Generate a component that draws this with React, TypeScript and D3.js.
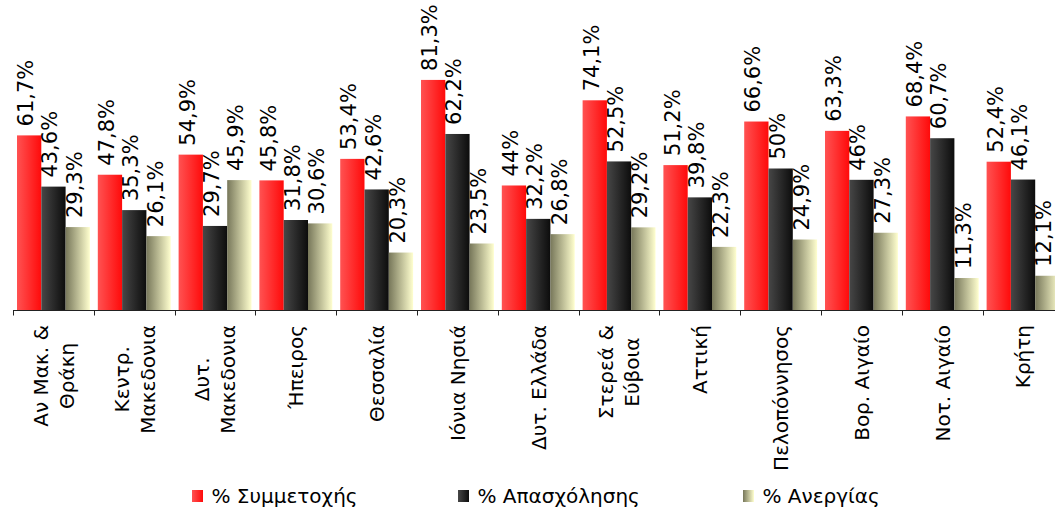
import React, { useEffect, useRef } from "react";
import * as d3 from "d3";

const categories: string[][] = [
  ["Αν Μακ. &", "Θράκη"],
  ["Κεντρ.", "Μακεδονια"],
  ["Δυτ.", "Μακεδονια"],
  ["Ήπειρος"],
  ["Θεσσαλία"],
  ["Ιόνια Νησιά"],
  ["Δυτ. Ελλάδα"],
  ["Στερεά &", "Εύβοια"],
  ["Αττική"],
  ["Πελοπόννησος"],
  ["Βορ. Αιγαίο"],
  ["Νοτ. Αιγαίο"],
  ["Κρήτη"],
];

const participation = [61.7, 47.8, 54.9, 45.8, 53.4, 81.3, 44, 74.1, 51.2, 66.6, 63.3, 68.4, 52.4];
const employment = [43.6, 35.3, 29.7, 31.8, 42.6, 62.2, 32.2, 52.5, 39.8, 50, 46, 60.7, 46.1];
const unemployment = [29.3, 26.1, 45.9, 30.6, 20.3, 23.5, 26.8, 29.2, 22.3, 24.9, 27.3, 11.3, 12.1];

const seriesNames = ["% Συμμετοχής", "% Απασχόλησης", "% Ανεργίας"];

const W = 1055;
const H = 508;

export default function App() {
  const ref = useRef<SVGSVGElement>(null);

  useEffect(() => {
    const svg = d3.select(ref.current!);
    svg.selectAll("*").remove();

    const defs = svg.append("defs");
    const grads = [
      ["g0", "#ff5252", "#ff0a0a"],
      ["g1", "#474747", "#0c0c0c"],
      ["g2", "#77775a", "#ffffcf"],
    ];
    grads.forEach(([id, c1, c2]) => {
      const g = defs.append("linearGradient").attr("id", id).attr("x1", 0).attr("x2", 1).attr("y1", 0).attr("y2", 0);
      g.append("stop").attr("offset", "0%").attr("stop-color", c1);
      g.append("stop").attr("offset", "100%").attr("stop-color", c2);
    });

    const series = [participation, employment, unemployment];
    const keys = categories.map((_, i) => String(i));
    const step = 80.8;
    const x0 = d3.scaleBand<string>().domain(keys).range([13, 13 + step * keys.length]).padding(0);
    const x1 = d3.scaleBand<number>().domain([0, 1, 2]).range([4, 4 + 24.3 * 3]).padding(0);
    const y = d3.scaleLinear().domain([0, 100]).range([310, 27]);

    const font = "'DejaVu Sans', Verdana, sans-serif";

    // bars
    keys.forEach((k, i) => {
      const g = svg.append("g").attr("transform", `translate(${x0(k)},0)`);
      series.forEach((s, j) => {
        const v = s[i];
        const bx = x1(j)!;
        g.append("rect")
          .attr("x", bx)
          .attr("y", y(v))
          .attr("width", x1.bandwidth())
          .attr("height", y(0) - y(v))
          .attr("fill", `url(#g${j})`);
        const cx = bx + x1.bandwidth() / 2 + 4;
        const ty = y(v) - 9;
        g.append("text")
          .attr("transform", `translate(${cx},${ty}) rotate(-90)`)
          .attr("font-family", font)
          .attr("font-size", 21)
          .attr("fill", "#000")
          .text(String(v).replace(".", ",") + "%");
      });
    });

    // axis
    const axisY = 310.5;
    svg.append("line").attr("x1", 13).attr("x2", W).attr("y1", axisY).attr("y2", axisY).attr("stroke", "#222").attr("stroke-width", 1);
    for (let i = 0; i <= keys.length; i++) {
      const tx = Math.round(13 + step * i) + 0.5;
      svg.append("line").attr("x1", tx).attr("x2", tx).attr("y1", axisY).attr("y2", axisY + 5).attr("stroke", "#222");
    }

    // category labels
    const lineH = 26;
    keys.forEach((k, i) => {
      const lines = categories[i];
      const center = x0(k)! + x0.bandwidth() / 2;
      const texts = lines.map((ln, li) => {
        const bx = center + (li - (lines.length - 1) / 2) * lineH + 7.3;
        return svg.append("text")
          .attr("font-family", font)
          .attr("font-size", 20)
          .attr("fill", "#000")
          .attr("text-anchor", "middle")
          .attr("data-bx", bx)
          .text(ln);
      });
      const lens = texts.map((t) => (t.node() as SVGTextElement).getComputedTextLength());
      const maxLen = Math.max(...lens);
      const mid = 325 + maxLen / 2;
      texts.forEach((t) => {
        const bx = +t.attr("data-bx");
        t.attr("transform", `translate(${bx},${mid}) rotate(-90)`);
      });
    });

    // legend
    const legendX = [192, 458, 743];
    seriesNames.forEach((name, j) => {
      svg.append("rect").attr("x", legendX[j]).attr("y", 490).attr("width", 11).attr("height", 12).attr("fill", `url(#g${j})`);
      svg.append("text")
        .attr("x", legendX[j] + 19.5)
        .attr("y", 503)
        .attr("font-family", font)
        .attr("font-size", 20)
        .attr("fill", "#000")
        .text(name);
    });
  }, []);

  return (
    <svg
      ref={ref}
      width={W}
      height={H}
      style={{ position: "absolute", left: 0, top: 0, display: "block", background: "#fff" }}
    />
  );
}
